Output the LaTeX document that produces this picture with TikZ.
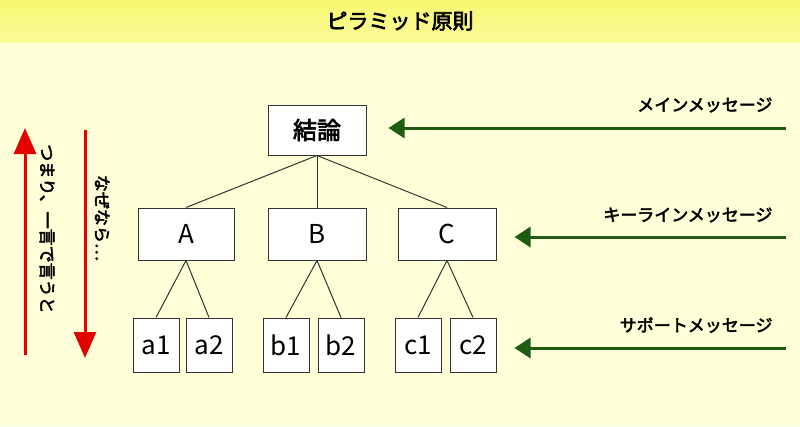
\documentclass[tikz,border=0pt]{standalone}
\usepackage{fontspec}
\setmainfont{Noto Sans CJK JP}
\newfontfamily\jpb{Noto Sans CJK JP}[FakeBold=3]
\usetikzlibrary{arrows.meta}
\definecolor{bgy}{HTML}{FFFFD8}
\definecolor{titley}{HTML}{F8F870}
\definecolor{dgreen}{HTML}{1E5C12}
\tikzset{x=1pt,y=-1pt,
 box/.style={draw=black!80,line width=1pt,fill=white,minimum width=#1,inner sep=0pt,font=\fontsize{26}{26}\selectfont},
 ln/.style={black!80,line width=1pt},
 garrow/.style={dgreen,line width=3pt,-{Triangle[length=16pt,width=20pt]}},
 rarrow/.style={red!90!black,line width=3pt,-{Triangle[length=26pt,width=22pt]}},
 lab/.style={anchor=east,font=\jpb\fontsize{17}{17}\selectfont},
 vlab/.style={rotate=-90,font=\jpb\fontsize{17}{17}\selectfont}}
\begin{document}
\begin{tikzpicture}
\fill[bgy] (0,0) rectangle (800,426);
\shade[top color=titley,bottom color=titley!60!bgy] (0,0) rectangle (800,42);
\useasboundingbox (0,0) rectangle (800,426);
\node[font=\jpb\fontsize{21}{21}\selectfont] (title) at (400,21) {ピラミッド原則};
\node[box=98pt,minimum height=50pt,font=\jpb\fontsize{24}{24}\selectfont] (top) at (317,130) {結論};
\node[box=96pt,minimum height=52pt] (A) at (186,234) {A};
\node[box=98pt,minimum height=52pt] (B) at (317,234) {B};
\node[box=98pt,minimum height=52pt] (C) at (447,234) {C};
\foreach \n/\x in {a1/156,a2/209,b1/286,b2/341,c1/418,c2/473}
  \node[box=46pt,minimum height=54pt] (\n) at (\x,345) {\n};
\foreach \t in {A,B,C} \draw[ln] (top.south) -- (\t.north);
\draw[ln] (A.south) -- (a1.north); \draw[ln] (A.south) -- (a2.north);
\draw[ln] (B.south) -- (b1.north); \draw[ln] (B.south) -- (b2.north);
\draw[ln] (C.south) -- (c1.north); \draw[ln] (C.south) -- (c2.north);
\coordinate (g1) at (786,128); \coordinate (g2) at (786,237); \coordinate (g3) at (786,348);
\draw[garrow] (g1) -- ([xshift=22pt]top.east|-g1);
\draw[garrow] (g2) -- ([xshift=18pt]C.east|-g2);
\draw[garrow] (g3) -- ([xshift=18pt]c2.east|-g3);
\node[lab] (l1) at (776,105) {メインメッセージ};
\node[lab] (l2) at (776,215) {キーラインメッセージ};
\node[lab] (l3) at (776,325) {サポートメッセージ};
\coordinate (u0) at (25,355); \coordinate (u1) at (25,128);
\coordinate (d0) at (85,130); \coordinate (d1) at (85,358);
\draw[rarrow] (u0) -- (u1);
\draw[rarrow] (d0) -- (d1);
\node[vlab] (v1) at (47,229) {つまり、一言で言うと};
\node[vlab] (v2) at (102,218) {なぜなら…};
\end{tikzpicture}
\end{document}
